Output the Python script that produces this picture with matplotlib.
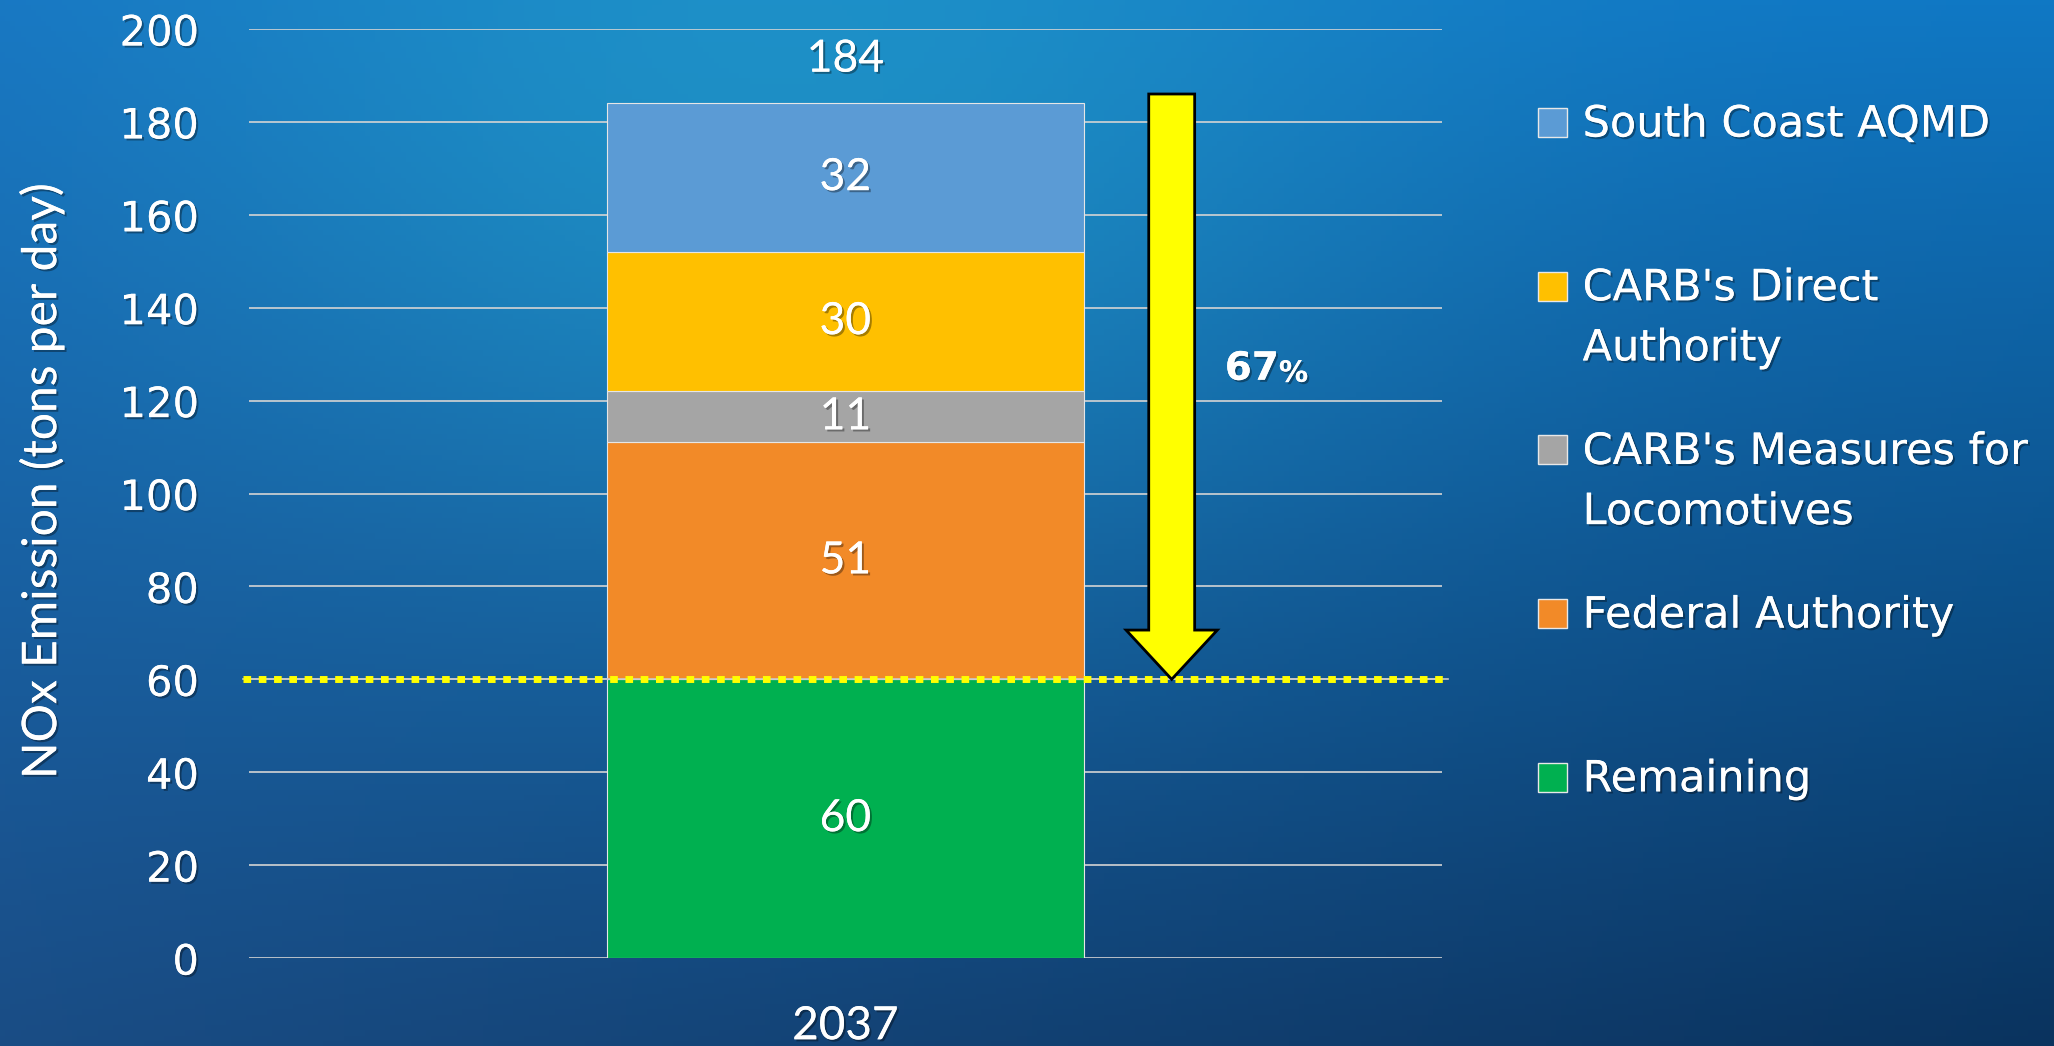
import matplotlib
matplotlib.use('Agg')
import matplotlib.pyplot as plt
import matplotlib.patheffects as pe
from matplotlib.patches import FancyArrow, Rectangle
import numpy as np

# data
years = ['2037']
categories = ['Remaining', 'Federal Authority', "CARB's Measures for\nLocomotives",
              "CARB's Direct\nAuthority", 'South Coast AQMD']
values = [60, 51, 11, 30, 32]
colors = ['#00B050', '#F28A28', '#A5A5A5', '#FFC000', '#5B9BD5']
total = 184
target = 60
reduction_pct = 67

W, H = 2054, 1046
fig = plt.figure(figsize=(W / 100, H / 100), dpi=100)

# blue gradient background
bg = fig.add_axes([0, 0, 1, 1], zorder=-5)
u, v = np.meshgrid(np.linspace(0, 1, 400), np.linspace(0, 1, 200))
TL = np.array([0.09, 0.45, 0.76])
TR = np.array([0.06, 0.47, 0.77])
BL = np.array([0.10, 0.30, 0.52])
BR = np.array([0.04, 0.20, 0.37])
img = (TL * ((1 - u) * (1 - v))[..., None] + TR * (u * (1 - v))[..., None]
       + BL * ((1 - u) * v)[..., None] + BR * (u * v)[..., None])
glow = np.exp(-(((u - 0.38) / 0.30) ** 2 + ((v - 0.08) / 0.45) ** 2))[..., None]
img = img * (1 - 0.6 * glow) + np.array([0.14, 0.64, 0.80]) * 0.6 * glow
bg.imshow(np.clip(img, 0, 1), aspect='auto', extent=(0, 1, 0, 1), origin='upper')
bg.axis('off')

shadow = [pe.withSimplePatchShadow(offset=(1.5, -1.5), shadow_rgbFace='black', alpha=0.35), pe.Normal()]

ax = fig.add_axes([0.1212, 0.0841, 0.5808, 0.8882])
ax.set_facecolor('none')
for s in ax.spines.values():
    s.set_visible(False)

ax.set_xlim(-1, 1)
ax.set_ylim(0, 200)
ax.set_yticks(np.arange(0, 201, 20))
ax.yaxis.grid(True, color='#d4d4d4', lw=1.2)
ax.set_axisbelow(True)
ax.tick_params(length=0, colors='white')
ax.tick_params(axis='y', labelsize=30, pad=36)
ax.tick_params(axis='x', labelsize=33, pad=34)

x = np.arange(len(years))
bottom = 0
for val, col in zip(values, colors):
    ax.bar(x, val, bottom=bottom, width=0.8, color=col, edgecolor='#e6e6e6', lw=0.8, zorder=2)
    ax.text(x[0], bottom + val / 2, str(val), ha='center', va='center', color='white',
            fontsize=32, family=['Lato', 'DejaVu Sans'], zorder=4, path_effects=shadow)
    bottom += val
ax.text(x[0], total + 9.5, str(total), ha='center', va='center', color='white',
        fontsize=32, family=['Lato', 'DejaVu Sans'], path_effects=shadow)

ax.set_xticks(x)
ax.set_xticklabels(years, family=['Lato', 'DejaVu Sans'])
for t in ax.get_yticklabels() + ax.get_xticklabels():
    t.set_path_effects(shadow)

ax.set_ylabel('NOx Emission (tons per day)', color='white', fontsize=34.5,
              family=['Lato', 'DejaVu Sans'], va='center', path_effects=shadow)
ax.yaxis.set_label_coords(-0.174, 0.513)

# target line
ax.plot([-1.01, 1.01], [target, target], color='#c8c8c8', lw=1.2, zorder=3, clip_on=False)
ax.plot([-1.01, 1.01], [target, target], color='#FFFF00', lw=5, dashes=(1.1, 1.1),
        dash_capstyle='butt', zorder=3, clip_on=False)

# reduction arrow
arr = FancyArrow(0.547, total + 2, 0, target - total - 2, width=0.077, head_width=0.153,
                 head_length=10.6, length_includes_head=True, fc='#FFFF00', ec='black',
                 lw=2, zorder=5)
ax.add_patch(arr)
t67 = ax.text(0.636, 124.5, str(reduction_pct), ha='left', va='baseline', color='white',
              fontsize=28, fontweight='bold', path_effects=shadow)
ax.annotate('%', xy=(1, 0), xycoords=t67, ha='left', va='bottom', color='white',
            fontsize=21, fontweight='bold', path_effects=shadow)

# legend, top to bottom
y0, step = 0.883, 0.1565
for i, (lab, col) in enumerate(zip(categories[::-1], colors[::-1])):
    yc = y0 - i * step
    fig.patches.append(Rectangle((0.749, yc - 0.0139), 0.0141, 0.0277, transform=fig.transFigure,
                                 fc=col, ec='#e8e8e8', lw=1))
    fig.text(0.7705, yc + 0.018, lab, ha='left', va='top', color='white', fontsize=31,
             linespacing=1.55, path_effects=shadow)

fig.savefig('out.png', dpi=100)
